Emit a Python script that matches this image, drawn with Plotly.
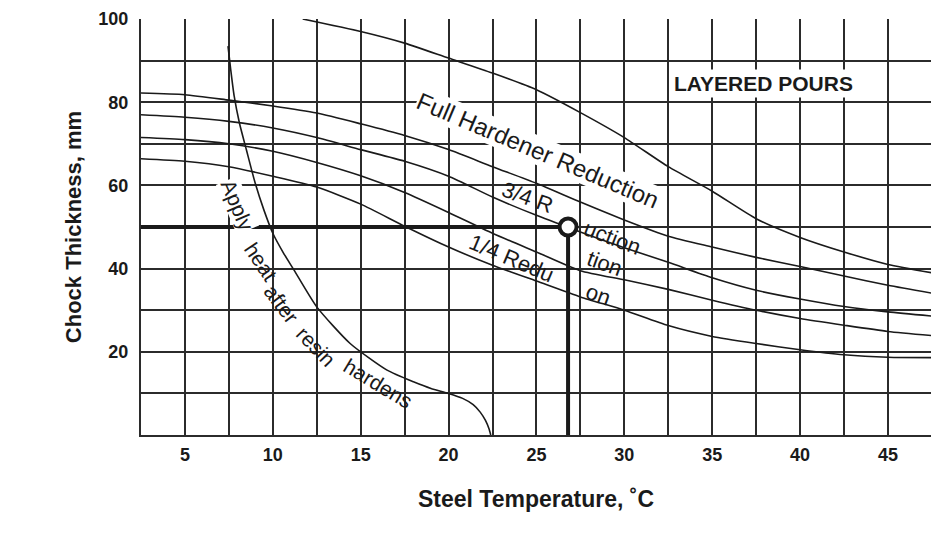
import plotly.graph_objects as go

# ---------------- data ----------------
temps = [2.5, 5, 7.5, 10, 12.5, 15, 17.5, 20, 22.5, 25, 27.5, 30, 32.5, 35, 37.5, 40, 42.5, 45, 47.5]

full_x = [11.7, 15, 17.5, 20, 22.5, 25, 27.5, 30, 32.5, 35, 37.5, 40, 42.5, 45, 47.5]
full_y = [100, 97, 94.2, 90.6, 87, 83, 77.5, 71.5, 64.5, 58.6, 52, 47.5, 44, 41, 39]

curve_a = [82.2, 81.8, 80.5, 79.1, 77.4, 74.8, 72, 68.6, 64.5, 60.5, 56, 51.7, 47.8, 45.2, 42.7, 40.5, 38.2, 36, 34.1]
curve_b = [77, 76.4, 75.4, 73.8, 71.5, 68.6, 65.8, 62.2, 57.2, 52.8, 48.8, 45, 41.5, 37.8, 34.8, 32.7, 30.9, 29.6, 28.6]
curve_c = [71.5, 71, 70, 68.2, 65.5, 62.3, 58.3, 53.5, 48.5, 44, 39.5, 37.3, 35, 32.4, 30, 28, 26.4, 24.9, 23.9]
curve_d = [66.4, 65.8, 64.5, 62.2, 59.6, 55.5, 50.2, 45.2, 40.8, 37, 33.2, 30, 26.3, 23.7, 22, 20.5, 19.3, 18.7, 18.6]

heat_x = [7.45, 7.6, 7.8, 8.1, 8.5, 9.0, 9.5, 10.0, 10.6, 11.2, 12.5, 14.4, 16.5, 18.0, 19.0, 20.0, 20.8, 21.4, 21.8, 22.1, 22.3, 22.4]
heat_y = [93.5, 88, 81.5, 75, 68.5, 60.5, 54, 48.5, 43.8, 39.7, 30.8, 22, 15.6, 12.8, 11.2, 10.0, 8.8, 7.3, 5.5, 3.5, 1.5, 0]

reading_temp = 26.8
reading_thickness = 50

x_tick_vals = [5, 10, 15, 20, 25, 30, 35, 40, 45]
x_tick_text = ["5", "10", "15", "20", "25", "30", "35", "40", "45"]
y_tick_vals = [20, 40, 60, 80, 100]
y_tick_text = ["20", "40", "60", "80", "100"]

# label texts with (x, y, angle, white background)
labels = [
    ("Full Hardener Reduction", 25.1, 68.5, 23, True),
    ("3/4 R", 24.5, 57.0, 20, False),
    ("uction", 29.3, 47.4, 21, False),
    ("tion", 28.9, 41.3, 20, False),
    ("1/4 Redu", 23.6, 42.5, 23, False),
    ("on", 28.5, 33.7, 20, False),
]
heat_words = [
    ("Apply", 8.0, 55.2, 67, True),
    ("heat", 9.3, 41.6, 56, False),
    ("after", 10.45, 31.5, 53, False),
    ("resin", 12.45, 21.2, 46, False),
    ("hardens", 16.0, 12.3, 31, False),
]

FONT = "Liberation Sans, Arial, Helvetica, sans-serif"
INK = "#1a1a1a"

fig = go.Figure()

line_style = dict(color=INK, width=1.6, shape="spline", smoothing=0.6)
fig.add_trace(go.Scatter(x=full_x, y=full_y, mode="lines", line=line_style, hoverinfo="skip"))
for c in (curve_a, curve_b, curve_c, curve_d):
    fig.add_trace(go.Scatter(x=temps, y=c, mode="lines", line=line_style, hoverinfo="skip"))
fig.add_trace(go.Scatter(x=heat_x, y=heat_y, mode="lines", line=line_style, hoverinfo="skip"))

# reading guide lines and marker
fig.add_trace(go.Scatter(
    x=[temps[0], reading_temp, reading_temp], y=[reading_thickness, reading_thickness, 0],
    mode="lines", line=dict(color=INK, width=4), hoverinfo="skip"))
fig.add_trace(go.Scatter(
    x=[reading_temp], y=[reading_thickness], mode="markers",
    marker=dict(symbol="circle", size=17, color="white", line=dict(color=INK, width=4)),
    hoverinfo="skip"))

annotations = []
for txt, x, y, ang, bg in labels:
    annotations.append(dict(x=x, y=y, xref="x", yref="y", text=txt, showarrow=False,
                            textangle=ang, font=dict(family=FONT, size=24 if bg else 22, color=INK),
                            bgcolor="white" if bg else None, borderpad=0))
for txt, x, y, ang, bg in heat_words:
    annotations.append(dict(x=x, y=y, xref="x", yref="y", text=txt, showarrow=False,
                            textangle=ang, font=dict(family=FONT, size=21, color=INK),
                            bgcolor="white" if bg else None, borderpad=0))
annotations.append(dict(x=37.9, y=84.6, xref="x", yref="y", text="LAYERED POURS", showarrow=False,
                        font=dict(family=FONT, size=21, color=INK, weight="bold"),
                        bgcolor="white", borderpad=2))

grid_col = "#2b2b2b"
fig.update_layout(
    width=931, height=533,
    margin=dict(l=141, r=0, t=19, b=98),
    paper_bgcolor="white", plot_bgcolor="white",
    showlegend=False,
    annotations=annotations,
    xaxis=dict(
        range=[2.5, 47.45], tickmode="array", tickvals=x_tick_vals, ticktext=x_tick_text,
        showgrid=True, gridcolor=grid_col, gridwidth=2, zeroline=False,
        showline=True, linecolor=grid_col, linewidth=2,
        ticks="", ticklabelstandoff=2,
        tickfont=dict(family=FONT, size=18, color=INK, weight="bold"),
        minor=dict(tickmode="linear", tick0=2.5, dtick=2.5, showgrid=True, gridcolor=grid_col, gridwidth=2),
        title=dict(text="Steel Temperature, ˚C", standoff=27,
                   font=dict(family=FONT, size=23, color=INK, weight="bold")),
        fixedrange=True,
    ),
    yaxis=dict(
        range=[0, 100], tickmode="array", tickvals=y_tick_vals, ticktext=y_tick_text,
        showgrid=True, gridcolor=grid_col, gridwidth=2, zeroline=False,
        showline=True, linecolor=grid_col, linewidth=2,
        ticks="", ticklabelstandoff=7,
        tickfont=dict(family=FONT, size=18, color=INK, weight="bold"),
        minor=dict(tickmode="linear", tick0=0, dtick=10, showgrid=True, gridcolor=grid_col, gridwidth=2),
        title=dict(text="Chock Thickness, mm", standoff=11,
                   font=dict(family=FONT, size=22, color=INK, weight="bold")),
        fixedrange=True,
    ),
)

fig.write_html("out.html", config={"displayModeBar": False},
               post_script="document.body.style.margin='0';document.body.style.overflow='hidden';")
